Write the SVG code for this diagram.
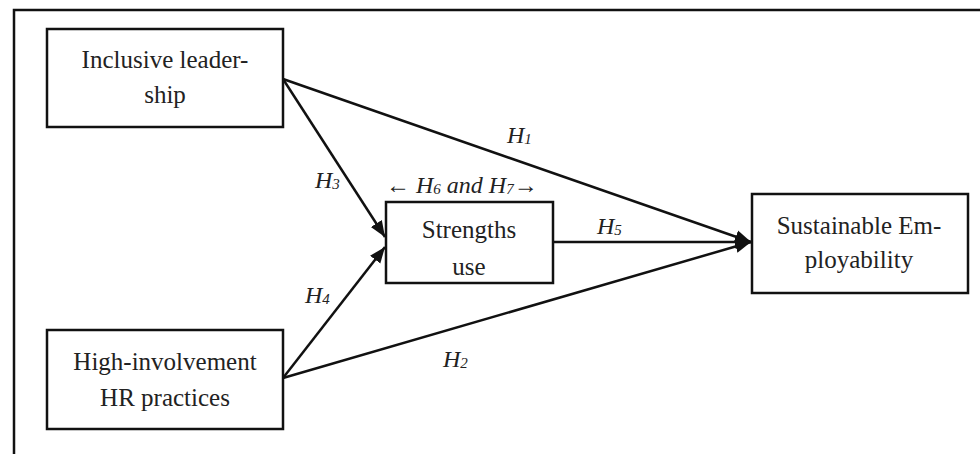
<svg xmlns="http://www.w3.org/2000/svg" width="980" height="454" viewBox="0 0 980 454">
  <style>
    .frame { fill: none; stroke: #111; stroke-width: 2.5; }
    .box { fill: #fff; stroke: #111; stroke-width: 2.5; }
    .t { font-family: "Liberation Serif", "Times New Roman", serif; font-size: 25px; fill: #222; text-anchor: middle; }
    .lab { font-family: "Liberation Serif", "Times New Roman", serif; font-size: 24px; font-style: italic; fill: #222; }
    .sub { font-size: 15px; }
    .edge { fill: none; stroke: #111; stroke-width: 2.5; marker-end: url(#head); }
  </style>
  <defs>
    <marker id="head" markerUnits="userSpaceOnUse" markerWidth="17" markerHeight="15" refX="16" refY="7.5" orient="auto">
      <path d="M0,1 L16,7.5 L0,14 Z" fill="#111"/>
    </marker>
  </defs>

  <rect width="980" height="454" fill="#fff"/>
  <!-- open frame: top and left sides -->
  <path class="frame" d="M14,456 L14,10 L982,10"/>

  <g id="connectors">
    <line class="edge" x1="283" y1="79" x2="751" y2="242"/>
    <line class="edge" x1="283" y1="79" x2="385" y2="237"/>
    <line class="edge" x1="283" y1="378" x2="385" y2="247"/>
    <line class="edge" x1="283" y1="378" x2="751" y2="242"/>
    <line class="edge" x1="553" y1="242" x2="751" y2="242"/>
  </g>

  <g id="labels">
    <text class="lab" x="507" y="143">H<tspan class="sub" dy="1">1</tspan></text>
    <text class="lab" x="315" y="188">H<tspan class="sub" dy="1">3</tspan></text>
    <text class="lab" x="305" y="303">H<tspan class="sub" dy="1">4</tspan></text>
    <text class="lab" x="443" y="367">H<tspan class="sub" dy="1">2</tspan></text>
    <text class="lab" x="597" y="234">H<tspan class="sub" dy="1">5</tspan></text>
    <text class="lab" x="386" y="193">← H<tspan class="sub" dy="1">6</tspan><tspan dy="-1"> and H</tspan><tspan class="sub" dy="1">7</tspan><tspan dy="-1">→</tspan></text>
  </g>

  <g id="inclusive-leadership">
    <rect class="box" x="47" y="29" width="236" height="98"/>
    <text class="t" x="165" y="68">Inclusive leader-</text>
    <text class="t" x="165" y="103">ship</text>
  </g>

  <g id="hr-practices">
    <rect class="box" x="47" y="330" width="236" height="99"/>
    <text class="t" x="165" y="370">High-involvement</text>
    <text class="t" x="165" y="406">HR practices</text>
  </g>

  <g id="strengths-use">
    <rect class="box" x="386" y="202" width="167" height="81"/>
    <text class="t" x="469" y="238">Strengths</text>
    <text class="t" x="469" y="275">use</text>
  </g>

  <g id="sustainable-employability">
    <rect class="box" x="752" y="194" width="216" height="99"/>
    <text class="t" x="859" y="234">Sustainable Em-</text>
    <text class="t" x="859" y="268">ployability</text>
  </g>
</svg>
